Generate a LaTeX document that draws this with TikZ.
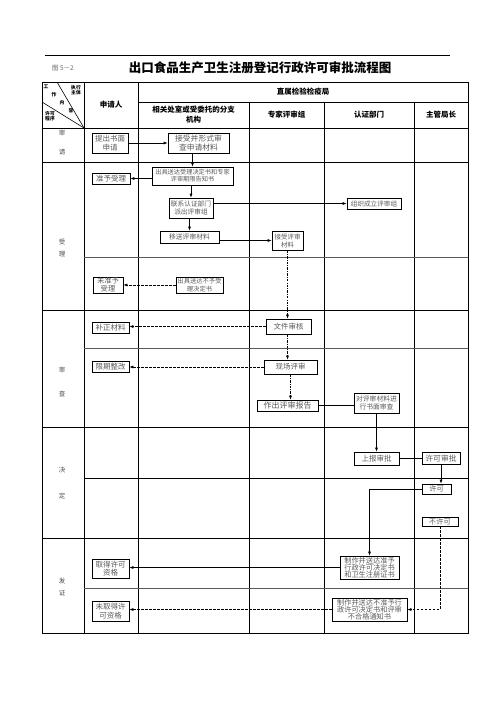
\documentclass[tikz,border=0pt]{standalone}
\usepackage{fontspec}
\setmainfont{Noto Sans CJK SC}
\usetikzlibrary{arrows.meta}
\newcommand{\fsz}[1]{\fontsize{#1}{#1}\selectfont}
\tikzset{
  box/.style={draw, line width=0.6pt, inner sep=0.3pt, align=center, text=black!65,
    font=\fontsize{7}{8}\selectfont},
  arr/.style={line width=0.6pt, -{Latex[length=4pt,width=3pt]}},
  conn/.style={line width=0.6pt},
  dashconn/.style={line width=0.6pt, dash pattern=on 2.5pt off 1.5pt},
  dotdash/.style={line width=0.6pt, dash pattern=on 2.5pt off 1.2pt on 0.8pt off 1.2pt},
  grid/.style={line width=0.7pt},
  innergrid/.style={line width=0.7pt, black!65},
  hdr/.style={font=\fontsize{7.5}{10}\selectfont\bfseries, align=center},
  lane/.style={font=\fontsize{6.5}{8}\selectfont, text=black!70},
  tiny/.style={font=\fontsize{4.8}{5.2}\selectfont\bfseries, align=center, inner sep=0pt}
}
\begin{document}
\begin{tikzpicture}[x=1pt,y=-1pt]
\useasboundingbox (0,0) rectangle (496,702);
% top rule and title
\draw[line width=0.6pt] (45,55) -- (450,55);
\node[font=\fontsize{6.5}{7}\selectfont, text=black!60] (fig) at (63,68) {图 5－2};
\node[font=\fontsize{12.5}{14}\selectfont\bfseries] (title) at (260,68) {出口食品生产卫生注册登记行政许可审批流程图};
% table outer frame
\draw[grid] (42,82) rectangle (468,633);
\draw[grid] (84,82) -- (84,633);
\draw[grid] (138,82) -- (138,633);
\draw[grid] (249,102) -- (249,633);
\draw[grid] (324,102) -- (324,633);
\draw[grid] (414,102) -- (414,633);
\draw[grid] (138,102) -- (468,102);
\foreach \yy in {128,162,310,427,538} \draw[grid] (42,\yy) -- (468,\yy);
\draw[innergrid] (84,257) -- (468,257);
\draw[innergrid] (84,348) -- (468,348);
\draw[grid] (84,478) -- (468,478);
\draw[innergrid] (84,588) -- (468,588);
% header diagonal cell
\draw[line width=0.6pt] (57,82) -- (84,128);
\draw[line width=0.6pt] (42,102) -- (84,128);
\node[tiny] (h1) at (46,87) {工};
\node[tiny] (h2) at (54,95) {作};
\node[tiny] (h3) at (62,103) {内};
\node[tiny] (h4) at (71,111) {容};
\node[tiny] (h5) at (76,90) {执行\\主体};
\node[tiny] (h6) at (50,116) {许可\\程序};
% headers
\node[hdr] (applicant) at (111,105) {申请人};
\node[hdr] (bureau) at (303,92) {直属检验检疫局};
\node[hdr] (dept) at (193.5,115) {相关处室或受委托的分支\\机构};
\node[hdr] (expert) at (286.5,115) {专家评审组};
\node[hdr] (cert) at (369,115) {认证部门};
\node[hdr] (chief) at (441,115) {主管局长};
% lane labels
\node[lane] (l1a) at (62,133) {审};
\node[lane] (l1b) at (62,152) {请};
\node[lane] (l2a) at (62,242) {受};
\node[lane] (l2b) at (62,254) {理};
\node[lane] (l3a) at (62,370) {审};
\node[lane] (l3b) at (62,394) {查};
\node[lane] (l4a) at (62,470) {决};
\node[lane] (l4b) at (62,496) {定};
\node[lane] (l5a) at (62,581) {发};
\node[lane] (l5b) at (62,593) {证};
% boxes
\node[box, minimum width=36pt, minimum height=20pt, font=\fontsize{7.5}{8.5}\selectfont] (b1) at (110,143) {提出书面\\申请};
\node[box, minimum width=61pt, minimum height=20pt, font=\fontsize{7.8}{8.5}\selectfont] (b2) at (198.5,143) {接受并形式审\\查申请材料};
\node[box, minimum width=81pt, minimum height=18pt, font=\fontsize{6.2}{7.2}\selectfont] (b3) at (192.5,176) {出具送达受理决定书和专家\\评审期限告知书};
\node[box, minimum width=38pt, minimum height=11pt, font=\fontsize{7.5}{8}\selectfont] (b4) at (111,178.5) {准予受理};
\node[box, minimum width=44pt, minimum height=20pt, font=\fontsize{6.7}{8}\selectfont] (b5) at (191,208) {联系认证部门\\派出评审组};
\node[box, minimum width=54pt, minimum height=11pt, font=\fontsize{6.6}{7}\selectfont] (b6) at (374,203.5) {组织成立评审组};
\node[box, minimum width=59pt, minimum height=12pt, font=\fontsize{6.8}{7}\selectfont] (b7) at (189.5,237) {移送评审材料};
\node[box, minimum width=31pt, minimum height=19pt, font=\fontsize{6.5}{8}\selectfont] (b8) at (287.5,240.5) {接受评审\\材料};
\node[box, minimum width=30pt, minimum height=16pt, font=\fontsize{7.3}{7.6}\selectfont] (b9) at (108,285) {未准予\\受理};
\node[box, minimum width=47pt, minimum height=16pt, font=\fontsize{6.3}{7.2}\selectfont] (b10) at (199.5,285) {出具送达不予受\\理决定书};
\node[box, minimum width=37pt, minimum height=11pt, font=\fontsize{7.5}{8}\selectfont] (b11) at (110.5,327.5) {补正材料};
\node[box, minimum width=45pt, minimum height=15pt, font=\fontsize{7.5}{8}\selectfont] (b12) at (288.5,326.5) {文件审核};
\node[box, minimum width=37pt, minimum height=11pt, font=\fontsize{7.5}{8}\selectfont] (b13) at (110.5,366.5) {限期整改};
\node[box, minimum width=53pt, minimum height=14pt, font=\fontsize{7.5}{8}\selectfont] (b14) at (290.5,367) {现场评审};
\node[box, minimum width=61pt, minimum height=11pt, font=\fontsize{8}{8}\selectfont] (b15) at (287.5,405.5) {作出评审报告};
\node[box, minimum width=45pt, minimum height=20pt, font=\fontsize{6.8}{8}\selectfont] (b16) at (376.5,403) {对评审材料进\\行书面审查};
\node[box, minimum width=45pt, minimum height=13pt, font=\fontsize{7.5}{8}\selectfont] (b17) at (376.5,458.5) {上报审批};
\node[box, minimum width=38pt, minimum height=12pt, font=\fontsize{7.8}{8}\selectfont] (b18) at (441,458) {许可审批};
\node[box, minimum width=29pt, minimum height=10pt, font=\fontsize{7.2}{8}\selectfont] (b19) at (436.5,489) {许可};
\node[box, minimum width=36pt, minimum height=9pt, font=\fontsize{7.2}{8}\selectfont] (b20) at (440,521.5) {不许可};
\node[box, minimum width=59pt, minimum height=23pt, font=\fontsize{7.2}{7}\selectfont] (b21) at (369.5,567.5) {制作并送达准予\\行政许可决定书\\和卫生注册证书};
\node[box, minimum width=37pt, minimum height=19pt, font=\fontsize{7.5}{8.5}\selectfont] (b22) at (110.5,568.5) {取得许可\\资格};
\node[box, minimum width=75pt, minimum height=23pt, font=\fontsize{7.2}{7}\selectfont] (b23) at (369.5,609.5) {制作并送达不准予行\\政许可决定书和评审\\不合格通知书};
\node[box, minimum width=37pt, minimum height=20pt, font=\fontsize{7.5}{8.5}\selectfont] (b24) at (110.5,611) {未取得许\\可资格};
% connectors
\draw[arr] (b1.east) -- (b2.west);
\draw[arr] (b3.north |- b2.south) -- (b3.north);
\draw[arr] (b3.west |- b4.east) -- (b4.east);
\draw[arr] (b3.south -| b5.north) -- (b5.north);
\draw[arr] (b5.east |- b6.west) -- (b6.west);
\draw[arr] (b5.south -| b7.north) -- (b7.north);
\draw[arr] (b7.east |- b8.west) -- (b8.west);
\draw[dotdash, -{Latex[length=4pt,width=3pt]}] (b8.south) -- (b8.south |- b12.north);
\draw[dashconn, -{Latex[length=4pt,width=3pt]}] (b10.west) -- (b9.east);
\draw[dashconn, -{Latex[length=4pt,width=3pt]}] (b12.west) -- (b12.west -| b11.east);
\draw[dotdash, -{Latex[length=4pt,width=3pt]}] (b8.south |- b12.south) -- (b8.south |- b14.north);
\draw[dashconn, -{Latex[length=4pt,width=3pt]}] (b14.west) -- (b14.west -| b13.east);
\draw[dotdash, -{Latex[length=4pt,width=3pt]}] (b14.south) -- (b14.south |- b15.north);
\draw[conn] (b15.east) -- (b15.east -| b16.west);
\draw[arr] (b16.south) -- (b17.north);
\draw[conn] (b17.east) -- (b17.east -| b18.west);
\draw[arr] (b18.south) -- (b18.south |- b19.north);
\draw[arr] (b19.west) -| (b21.north);
\draw[dashconn, -{Latex[length=4pt,width=3pt]}] (b20.south) |- (b23.east);
\draw[arr] (b21.west) -- (b21.west -| b22.east);
\draw[dashconn, -{Latex[length=4pt,width=3pt]}] (b23.west) -- (b23.west -| b24.east);
\end{tikzpicture}
\end{document}
